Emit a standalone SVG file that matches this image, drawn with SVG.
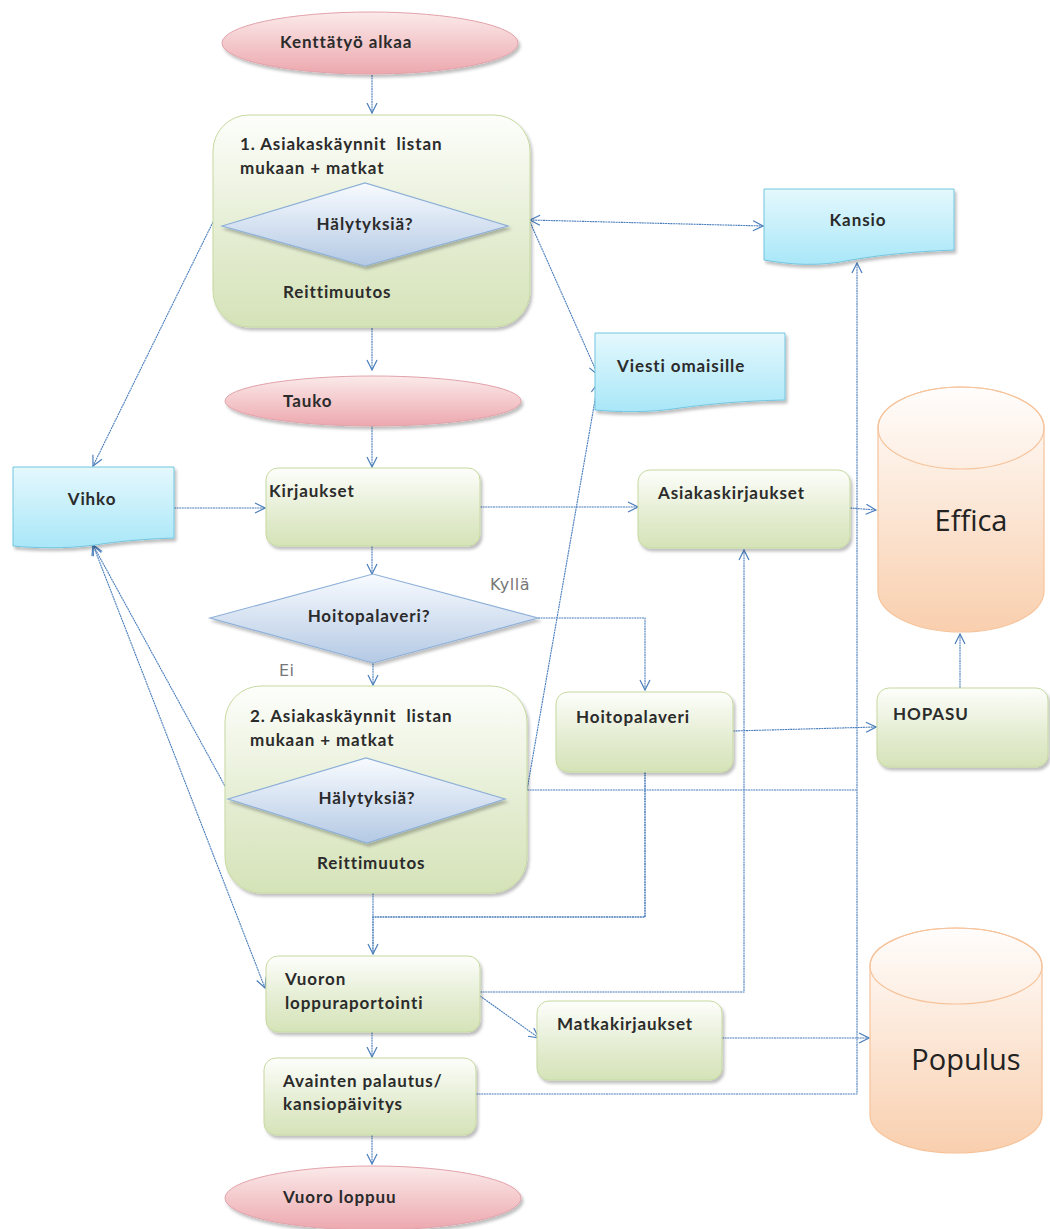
<svg xmlns="http://www.w3.org/2000/svg" width="1050" height="1229" viewBox="0 0 1050 1229">
<defs>
<linearGradient id="gPink" x1="0" y1="0" x2="0" y2="1"><stop offset="0" stop-color="#fbeaea"/><stop offset="1" stop-color="#eca8ae"/></linearGradient>
<linearGradient id="gGreen" x1="0" y1="0" x2="0" y2="1"><stop offset="0" stop-color="#fdfefb"/><stop offset="0.6" stop-color="#e3ecd0"/><stop offset="1" stop-color="#d5e3b8"/></linearGradient>
<linearGradient id="gBlue" x1="0" y1="0" x2="0" y2="1"><stop offset="0" stop-color="#f8fbff"/><stop offset="1" stop-color="#b4c9e4"/></linearGradient>
<linearGradient id="gCyan" x1="0" y1="0" x2="0" y2="1"><stop offset="0" stop-color="#e4f8fd"/><stop offset="1" stop-color="#a9e7f8"/></linearGradient>
<linearGradient id="gPeach" x1="0" y1="0" x2="0" y2="1"><stop offset="0" stop-color="#fffdfc"/><stop offset="1" stop-color="#f9cfae"/></linearGradient>
<filter id="sh" x="-10%" y="-10%" width="125%" height="130%"><feDropShadow dx="2" dy="3" stdDeviation="1.5" flood-color="#000" flood-opacity="0.25"/></filter>
<marker id="ah" viewBox="0 0 12 12" refX="11" refY="6" markerWidth="12" markerHeight="12" markerUnits="userSpaceOnUse" orient="auto-start-reverse"><path d="M1,1 L11,6 L1,11" fill="none" stroke="#4a7ebb" stroke-width="1.2"/></marker>
<style>
.t{font-family:"Lato","Liberation Sans",sans-serif;font-weight:bold;font-size:17px;letter-spacing:0.9px;fill:#2b2b2b}
.big{font-family:"Open Sans","Liberation Sans",sans-serif;font-size:29px;fill:#222}
.lbl{font-family:"DejaVu Sans","Liberation Sans",sans-serif;font-size:16px;letter-spacing:0.5px;fill:#777}
.ell{fill:url(#gPink);stroke:#e2a2aa;stroke-width:1;filter:url(#sh)}
.box{fill:url(#gGreen);stroke:#c6d9a0;stroke-width:1;filter:url(#sh)}
.dia{fill:url(#gBlue);stroke:#8eb0d8;stroke-width:1.2;filter:url(#sh)}
.doc{fill:url(#gCyan);stroke:#72c6e0;stroke-width:1;filter:url(#sh)}
.cyl{fill:url(#gPeach);stroke:#f6c49c;stroke-width:1.2}
.c{fill:none;stroke:#4a7ebb;stroke-width:1.1;stroke-dasharray:2 0.6}
</style>
</defs>

<g id="connectors">
<path class="c" d="M372,75 V113" marker-end="url(#ah)"/>
<path class="c" d="M372,328 V370" marker-end="url(#ah)"/>
<path class="c" d="M372,425 V467" marker-end="url(#ah)"/>
<path class="c" d="M174,508 H265" marker-end="url(#ah)"/>
<path class="c" d="M213,222 L93,466" marker-end="url(#ah)"/>
<path class="c" d="M530,220 L763,226" marker-start="url(#ah)" marker-end="url(#ah)"/>
<path class="c" d="M530,222 L598,375" marker-end="url(#ah)"/>
<path class="c" d="M527,790 L598,383" marker-end="url(#ah)"/>
<path class="c" d="M480,507 H638" marker-end="url(#ah)"/>
<path class="c" d="M850,508 L876,510" marker-end="url(#ah)"/>
<path class="c" d="M372,546 V574" marker-end="url(#ah)"/>
<path class="c" d="M538,618 H645 V690" marker-end="url(#ah)"/>
<path class="c" d="M373,663 V685" marker-end="url(#ah)"/>
<path class="c" d="M733,731 L876,727" marker-end="url(#ah)"/>
<path class="c" d="M960,688 V634" marker-end="url(#ah)"/>
<path class="c" d="M527,790 H857"/>
<path class="c" d="M476,1094 H857 V263" marker-end="url(#ah)"/>
<path class="c" d="M226,788 L93,545" marker-end="url(#ah)"/>
<path class="c" d="M93,545 L265,988" marker-start="url(#ah)" marker-end="url(#ah)"/>
<path class="c" d="M373,893 V917"/>
<path class="c" d="M645,772 V917 H373 V954" marker-end="url(#ah)" style="stroke-width:1.5"/>
<path class="c" d="M480,992 H744 V550" marker-end="url(#ah)"/>
<path class="c" d="M480,996 L539,1038" marker-end="url(#ah)"/>
<path class="c" d="M722,1038 H869" marker-end="url(#ah)"/>
<path class="c" d="M372,1032 V1057" marker-end="url(#ah)"/>
<path class="c" d="M372,1135 V1164" marker-end="url(#ah)"/>
</g>

<g id="start"><ellipse class="ell" cx="370" cy="43" rx="148" ry="31"/><text class="t" x="280" y="48">Kenttätyö alkaa</text></g>

<g id="visits1">
<rect class="box" x="213" y="115" width="317" height="212" rx="36"/>
<text class="t" x="240" y="150" xml:space="preserve">1. Asiakaskäynnit  listan</text>
<text class="t" x="240" y="174">mukaan + matkat</text>
<polygon class="dia" points="222,226 365,183 508,226 365,266"/>
<text class="t" x="365" y="230" text-anchor="middle">Hälytyksiä?</text>
<text class="t" x="283" y="298">Reittimuutos</text>
</g>

<g id="kansio"><path class="doc" d="M764,189 H954 V250 C905,252 872,256 840,262 C808,267 782,263 764,260 Z"/><text class="t" x="858" y="226" text-anchor="middle">Kansio</text></g>

<g id="viesti"><path class="doc" d="M595,333 H785 V400 C740,401 710,404 680,408 C648,413 618,412 595,410 Z"/><text class="t" x="617" y="372">Viesti omaisille</text></g>

<g id="tauko"><ellipse class="ell" cx="373" cy="401" rx="148" ry="25"/><text class="t" x="283" y="407">Tauko</text></g>

<g id="vihko"><path class="doc" d="M13,467 H174 V538 C145,539 120,541 95,545 C65,549 35,548 13,546 Z"/><text class="t" x="92" y="505" text-anchor="middle">Vihko</text></g>

<g id="kirjaukset"><rect class="box" x="266" y="468" width="214" height="78" rx="12"/><text class="t" x="269" y="497">Kirjaukset</text></g>

<g id="asiakaskirjaukset"><rect class="box" x="638" y="470" width="212" height="78" rx="12"/><text class="t" x="658" y="499">Asiakaskirjaukset</text></g>

<g id="effica">
<path class="cyl" d="M878,428 A83,41 0 0 1 1044,428 V591 A83,41 0 0 1 878,591 Z"/>
<ellipse cx="961" cy="428" rx="83" ry="41" fill="none" stroke="#f6c49c" stroke-width="1.2"/>
<text class="big" x="971" y="531" text-anchor="middle">Effica</text>
</g>

<g id="hoitopalaveri-q">
<polygon class="dia" points="210,618 373,574 538,618 373,663"/>
<text class="t" x="369" y="622" text-anchor="middle">Hoitopalaveri?</text>
</g>
<text class="lbl" x="490" y="590">Kyllä</text>
<text class="lbl" x="279" y="676">Ei</text>

<g id="visits2">
<rect class="box" x="225" y="686" width="302" height="207" rx="36"/>
<text class="t" x="250" y="722" xml:space="preserve">2. Asiakaskäynnit  listan</text>
<text class="t" x="250" y="746">mukaan + matkat</text>
<polygon class="dia" points="228,799 366,758 505,799 367,843"/>
<text class="t" x="367" y="804" text-anchor="middle">Hälytyksiä?</text>
<text class="t" x="317" y="869">Reittimuutos</text>
</g>

<g id="hoitopalaveri"><rect class="box" x="556" y="692" width="177" height="80" rx="12"/><text class="t" x="576" y="723">Hoitopalaveri</text></g>

<g id="hopasu"><rect class="box" x="877" y="688" width="171" height="79" rx="12"/><text class="t" x="893" y="720">HOPASU</text></g>

<g id="vuoron"><rect class="box" x="266" y="956" width="214" height="76" rx="12"/><text class="t" x="285" y="985">Vuoron</text><text class="t" x="285" y="1009">loppuraportointi</text></g>

<g id="matkakirjaukset"><rect class="box" x="537" y="1001" width="185" height="79" rx="12"/><text class="t" x="557" y="1030">Matkakirjaukset</text></g>

<g id="populus">
<path class="cyl" d="M870,966 A86,38 0 0 1 1042,966 V1115 A86,38 0 0 1 870,1115 Z"/>
<ellipse cx="956" cy="966" rx="86" ry="38" fill="none" stroke="#f6c49c" stroke-width="1.2"/>
<text class="big" x="966" y="1070" text-anchor="middle">Populus</text>
</g>

<g id="avainten"><rect class="box" x="264" y="1058" width="212" height="77" rx="12"/><text class="t" x="283" y="1087">Avainten palautus/</text><text class="t" x="283" y="1110">kansiopäivitys</text></g>

<g id="end"><ellipse class="ell" cx="373" cy="1198" rx="148" ry="32"/><text class="t" x="283" y="1203">Vuoro loppuu</text></g>
</svg>
